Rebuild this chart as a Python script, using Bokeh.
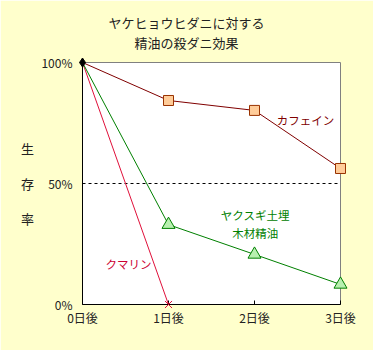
from bokeh.plotting import figure
from bokeh.models import Range1d, FixedTicker, Span
from bokeh.core.properties import value
from bokeh.embed import file_html
from bokeh.resources import INLINE

days = [0, 1, 2, 3]
day_labels = ["0日後", "1日後", "2日後", "3日後"]
caffeine = [100, 84.3, 80.2, 56.2]
yakusugi = [100, 33.0, 20.7, 8.3]
coumarin_x = [0, 1]
coumarin = [100, 0]
y_ticks = [0, 50, 100]
y_tick_labels = ["0%", "50%", "100%"]
title_lines = ["ヤケヒョウヒダニに対する", "精油の殺ダニ効果"]
y_title_chars = ["生", "存", "率"]

FONT = "Noto Sans CJK JP"
BG = "#FFFFCC"

p = figure(width=373, height=350, output_backend="svg", toolbar_location=None,
           x_range=Range1d(0, 3), y_range=Range1d(0, 100),
           min_border_left=82, min_border_right=33, min_border_top=62, min_border_bottom=46)
p.background_fill_color = "white"
p.border_fill_color = BG
p.outline_line_color = "#808080"
p.outline_line_width = 1
p.grid.visible = False

p.xaxis.ticker = FixedTicker(ticks=days)
p.xaxis.major_label_overrides = {d: l for d, l in zip(days, day_labels)}
p.xaxis.major_tick_in = 4
p.xaxis.major_tick_out = 0
p.xaxis.minor_tick_line_color = None
p.xaxis.axis_line_color = "black"
p.xaxis.major_tick_line_color = "black"
p.xaxis.major_label_standoff = 4
p.yaxis.ticker = FixedTicker(ticks=y_ticks)
p.yaxis.major_label_overrides = {t: l for t, l in zip(y_ticks, y_tick_labels)}
p.yaxis.major_tick_in = 0
p.yaxis.major_tick_out = 0
p.yaxis.minor_tick_line_color = None
p.yaxis.axis_line_color = "black"
p.yaxis.major_label_standoff = 10
for ax in (p.xaxis, p.yaxis):
    ax.major_label_text_font = FONT
    ax.major_label_text_font_size = "12px"
    ax.major_label_text_color = "#222222"

p.add_layout(Span(location=50, dimension="width", line_color="black",
                  line_dash="3 3", line_width=1))

# series
r = p.line(coumarin_x, coumarin, line_color="#E0103A", line_width=1)
r.level = "overlay"
r = p.scatter([coumarin_x[1]], [coumarin[1]], marker="x", size=10, line_color="#E0103A", line_width=1)
r.level = "overlay"

r = p.line(days, yakusugi, line_color="#008000", line_width=1)
r.level = "overlay"
r = p.scatter(days[1:], yakusugi[1:], marker="triangle", size=13, fill_color="#B8F0B0",
              line_color="#008000", line_width=1)
r.level = "overlay"

r = p.line(days, caffeine, line_color="#800000", line_width=1)
r.level = "overlay"
r = p.scatter(days[1:], caffeine[1:], marker="square", size=10, fill_color="#FFCC99",
              line_color="#993300", line_width=1)
r.level = "overlay"

r = p.scatter([days[0]], [caffeine[0]], marker="diamond", size=9, fill_color="black",
              line_color="black")
r.level = "overlay"

def lab(xs, ys, texts, color="#222222", size="12px", align="center"):
    r = p.text(x=xs, y=ys, text=texts, text_font=value(FONT), text_font_size=value(size),
               text_color=color, text_align=align, text_baseline="middle")
    r.level = "overlay"

lab([1.21, 1.21], [116.5, 108.2], title_lines, size="13px")
lab([-0.64] * 3, [64.5, 50, 35.5], y_title_chars, size="13px")
lab([2.26], [76.4], ["カフェイン"], color="#800000", align="left", size="11.5px")
lab([2.01, 2.01], [36.8, 29.4], ["ヤクスギ土埋", "木材精油"], color="#008000", size="11.5px")
lab([0.535], [16.9], ["クマリン"], color="#CC0033", size="11.5px")

open("out.html", "w").write(file_html(p, INLINE))
